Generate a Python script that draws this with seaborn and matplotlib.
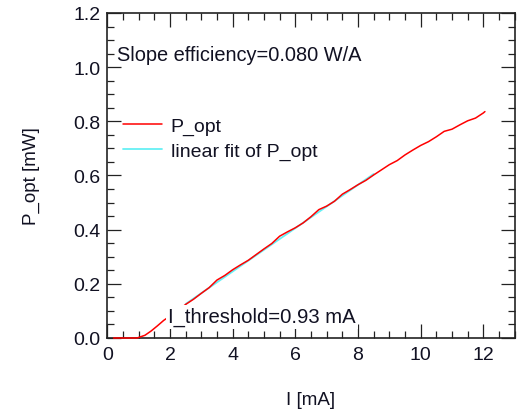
import numpy as np
import seaborn as sns
import matplotlib.pyplot as plt
from matplotlib.ticker import MultipleLocator

# measured L-I curve
current_ma = [0.2, 0.4, 0.6, 0.8, 0.95, 1.0, 1.2, 1.4, 1.6, 1.8, 2.0, 2.25, 2.5, 2.75,
              3.0, 3.25, 3.5, 3.75, 4.0, 4.25, 4.5, 4.75, 5.0, 5.25, 5.5, 5.75, 6.0,
              6.25, 6.5, 6.75, 7.0, 7.25, 7.5, 7.75, 8.0, 8.25, 8.5, 8.75, 9.0, 9.25,
              9.5, 9.75, 10.0, 10.25, 10.5, 10.75, 11.0, 11.25, 11.5, 11.75, 12.0, 12.05]
p_opt_mw = [0.0, 0.0, 0.0, 0.0, 0.0, 0.002, 0.010, 0.026, 0.045, 0.065, 0.081, 0.101,
            0.124, 0.143, 0.165, 0.186, 0.214, 0.231, 0.252, 0.270, 0.287, 0.308, 0.329,
            0.349, 0.376, 0.392, 0.407, 0.425, 0.448, 0.474, 0.487, 0.505, 0.531, 0.548,
            0.566, 0.582, 0.602, 0.621, 0.640, 0.655, 0.676, 0.694, 0.711, 0.725, 0.743,
            0.763, 0.771, 0.787, 0.802, 0.812, 0.831, 0.836]

# linear fit parameters
slope_eff = 0.080      # W/A == mW/mA
i_threshold = 0.93     # mA
fit_range = [2.5, 8.5]

sns.set_theme(style="ticks")
plt.rcParams["font.family"] = ["Liberation Sans", "DejaVu Sans"]
txt_color = "#111122"

fig = plt.figure(figsize=(5.2, 4.14), dpi=100)
ax = fig.add_axes([107.3 / 520, 1 - 339 / 414, (514.7 - 107.3) / 520, (339 - 14) / 414])

fit_x = np.array(fit_range)
fit_y = slope_eff * (fit_x - i_threshold)
sns.lineplot(x=current_ma, y=p_opt_mw, color="red", lw=1.1, label="P_opt",
             estimator=None, ax=ax, zorder=3)
sns.lineplot(x=fit_x, y=fit_y, color="#66f0f5", lw=1.3, label="linear fit of P_opt",
             estimator=None, ax=ax, zorder=2)
ax.lines[0].set_clip_on(False)

ax.set_xlim(0, 13)
ax.set_ylim(0, 1.2)
ax.xaxis.set_major_locator(MultipleLocator(2))
ax.xaxis.set_minor_locator(MultipleLocator(0.5))
ax.yaxis.set_major_locator(MultipleLocator(0.2))
ax.yaxis.set_minor_locator(MultipleLocator(0.05))
ax.yaxis.set_major_formatter(plt.FormatStrFormatter("%.1f"))
ax.tick_params(which="both", direction="in", top=True, right=True, width=0.9,
               color="#222222", labelsize=14, labelcolor=txt_color)
ax.tick_params(which="major", length=10)
ax.tick_params(which="minor", length=5)
ax.tick_params(axis="x", pad=6)
ax.tick_params(axis="y", pad=5)
for sp in ax.spines.values():
    sp.set_linewidth(1.2)
    sp.set_color("#222222")

ax.set_xlabel("I [mA]", fontsize=13.5, color=txt_color, labelpad=20)
ax.set_ylabel("P_opt [mW]", fontsize=13.5, color=txt_color, labelpad=24)

ax.text(0.3, 1.047, "Slope efficiency=0.080 W/A", fontsize=14.4, color=txt_color,
        va="center", ha="left", zorder=5)
ax.text(1.95, 0.078, "I_threshold=0.93 mA", fontsize=14.6, color=txt_color,
        va="center", ha="left", zorder=5,
        bbox=dict(boxstyle="square,pad=0.1", fc="white", ec="none"))

leg = ax.legend(loc="upper left", bbox_to_anchor=(0.038, 0.68), frameon=False,
                fontsize=14, handlelength=2.0, handletextpad=0.46, labelspacing=0.4,
                borderpad=0, borderaxespad=0)
for t in leg.get_texts():
    t.set_color(txt_color)

fig.savefig("out.png", dpi=100)
